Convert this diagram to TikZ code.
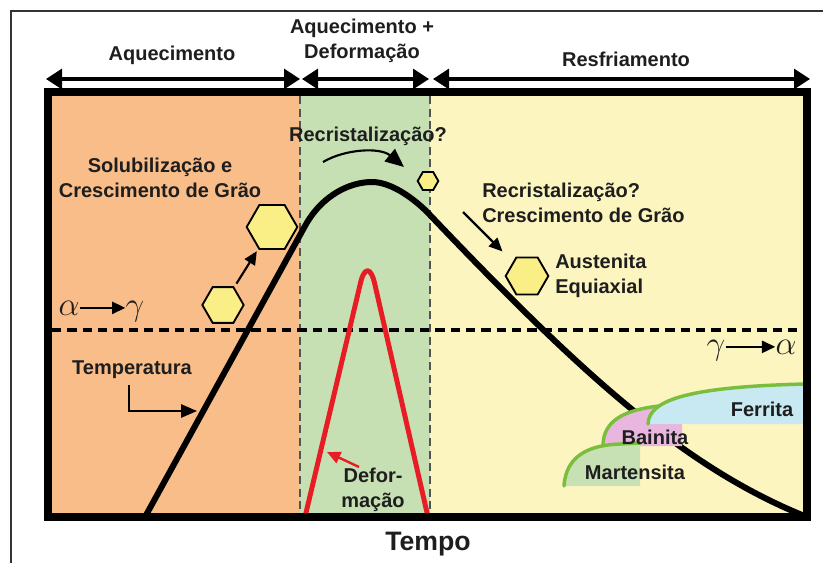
\documentclass[tikz,border=0pt]{standalone}
\usepackage{fontspec}
\setsansfont{Liberation Sans}
\usetikzlibrary{arrows.meta}
\usetikzlibrary{shapes.geometric}
\usetikzlibrary{calc}

\definecolor{heatcol}{RGB}{249,189,137}
\definecolor{defcol}{RGB}{198,224,180}
\definecolor{coolcol}{RGB}{252,245,192}
\definecolor{hexcol}{RGB}{250,238,135}
\definecolor{phasegreen}{RGB}{122,190,62}
\definecolor{ferrcol}{RGB}{200,232,242}
\definecolor{baincol}{RGB}{232,182,222}
\definecolor{martcol}{RGB}{200,225,180}
\definecolor{strainred}{RGB}{232,28,36}
\definecolor{txtcol}{RGB}{30,30,30}

\begin{document}
\begin{tikzpicture}[x=0.75pt,y=-0.75pt,
    lbl/.style={font=\sffamily\bfseries\fontsize{15}{18.5}\selectfont,text=txtcol,inner sep=0pt,align=center},
    greek/.style={font=\fontsize{26}{26}\selectfont,text=txtcol,inner sep=0pt},
    hexagon/.style={regular polygon,regular polygon sides=6,draw=black,line width=1.4pt,fill=hexcol,inner sep=0pt},
    spanarrow/.style={line width=2.3pt,{Triangle[length=12pt,width=15pt]}-{Triangle[length=12pt,width=15pt]}},
    ptr/.style={line width=1.6pt,-{Triangle[length=10pt,width=9pt]}},
    phase/.style={draw=phasegreen,line width=2.6pt,line cap=round}]
                \useasboundingbox (0,0) rectangle (823,563);
                \draw[line width=0.8pt,black!80] (11,563) -- (11,11) -- (823,11);

                % Define the coordinates of the points
                \coordinate (h0) at (46,79);
                \coordinate (h1) at (300,79);
                \coordinate (h2) at (302,79);
                \coordinate (h3) at (429,79);
                \coordinate (h4) at (433,79);
                \coordinate (h5) at (810,79);
                \coordinate (t0) at (145,517);
                \coordinate (t1) at (305,226);
                \coordinate (pk) at (372,182);
                \coordinate (t2) at (430,215);
                \coordinate (t3) at (807,517);
                \coordinate (r0) at (305,517);
                \coordinate (r1) at (360,285);
                \coordinate (r2) at (375,285);
                \coordinate (r3) at (428,517);

                % Draw the zones
                \fill[heatcol] (52,96) rectangle (300,513);
                \fill[defcol] (300,96) rectangle (430,513);
                \fill[coolcol] (430,96) rectangle (803,513);
                \foreach \xv in {300,430}
                    \draw[gray!65!black,line width=1.2pt,dash pattern=on 6pt off 3.5pt] (\xv,96) -- (\xv,513);
                \draw[line width=2.5pt,dash pattern=on 7pt off 4.5pt] (52,330) -- (803,330);

                % Draw the lines
                \draw[line width=4.5pt,line join=round] (t0) -- (t1)
                    .. controls (322,195) and (350,182) .. (pk)
                    .. controls (392,182) and (416,200) .. (t2)
                    .. controls (585,378) and (687,469) .. (t3);
                \draw[strainred,line width=3.7pt,line join=round] (r0) -- (r1)
                    .. controls (364,266) and (371,266) .. (r2) -- (r3);

                % Phases
                \fill[baincol] (603,446) .. controls (603,420) and (625,410) .. (659,406)
                    -- (648,424) -- (682,424) -- (682,446) -- cycle;
                \fill[ferrcol] (648,424) .. controls (649,402) and (680,387) .. (805,384)
                    -- (805,424) -- cycle;
                \fill[martcol] (564,486) .. controls (566,455) and (590,445) .. (620,444)
                    -- (640,443) -- (640,486) -- cycle;
                \draw[phase] (648,424) .. controls (649,402) and (680,387) .. (805,384);
                \draw[phase] (603,446) .. controls (603,420) and (625,410) .. (659,406);
                \draw[phase] (564,486) .. controls (566,455) and (590,445) .. (620,444) -- (640,443);
                \node[lbl] (ferr) at (762,409) {Ferrita};
                \node[lbl] (bain) at (655,437) {Bainita};
                \node[lbl] (mart) at (635,472) {Martensita};

                \draw[line width=6pt] (48,92) rectangle (807,517);

                % Headings
                \foreach \from/\to in {h0/h1, h2/h3, h4/h5}
                    \draw[spanarrow] (\from) -- (\to);
                \node[lbl] (heat) at (172,55) {Aquecimento};
                \node[lbl] (heatdef) at (362,41) {Aquecimento +\\Deformação};
                \node[lbl] (cool) at (626,59) {Resfriamento};

                % Grains
                \node[hexagon,minimum size=38pt] (hexl) at (272,227) {};
                \node[hexagon,minimum size=31pt] (hexs) at (223,305) {};
                \node[hexagon,minimum size=15.5pt] (hext) at (428,181) {};
                \node[hexagon,minimum size=32pt] (hexa) at (527,276) {};
                \draw[ptr,shorten <=3pt,shorten >=2pt] (hexs) -- (hexl);

                \node[lbl] (solub) at (160,178) {Solubilização e\\Crescimento de Grão};
                \node[lbl] (rectop) at (368,136) {Recristalização?};
                \coordinate (cv1) at (323,162);
                \coordinate (cv2) at (404,167);
                \draw[line width=1.6pt,-{Triangle[length=14pt,width=12pt]}] (cv1)
                    .. controls (345,149) and (380,147) .. (cv2);
                \node[lbl,anchor=west,align=left] (recright) at (482,203) {Recristalização?\\Crescimento de Grão};
                \coordinate (rc1) at (463,212);
                \draw[ptr,shorten >=11pt] (rc1) -- (hexa);
                \node[lbl,anchor=west,align=left] (aust) at (555,276) {Austenita\\Equiaxial};

                % Transformations
                \node[greek,anchor=base] (al1) at (69,315) {$\alpha$};
                \node[greek,anchor=base] (ga1) at (135,315) {$\gamma$};
                \draw[ptr,line width=1.8pt] (al1.east) -- (al1.east -| ga1.west);
                \node[greek,anchor=base] (ga2) at (716,354) {$\gamma$};
                \node[greek,anchor=base] (al2) at (786,354) {$\alpha$};
                \draw[ptr,line width=1.8pt] (al2.west -| ga2.east) -- (al2.west);

                % Temperature and strain labels
                \node[lbl] (temp) at (132,370) {Temperatura};
                \coordinate (tp1) at (129,385);
                \coordinate (tp2) at (197,411);
                \draw[line width=1.3pt,-{Triangle[length=12pt,width=10pt]}] (tp1) |- (tp2);
                \node[lbl] (deform) at (373,490) {Defor-\\mação};
                \coordinate (df1) at (359,467);
                \coordinate (df2) at (327,452);
                \draw[strainred,line width=1.8pt,-{Triangle[length=10pt,width=9pt]}] (df1) -- (df2);
                \node[lbl,font=\sffamily\bfseries\fontsize{20}{24}\selectfont] (tempo) at (428,544) {Tempo};
            \end{tikzpicture}
\end{document}
